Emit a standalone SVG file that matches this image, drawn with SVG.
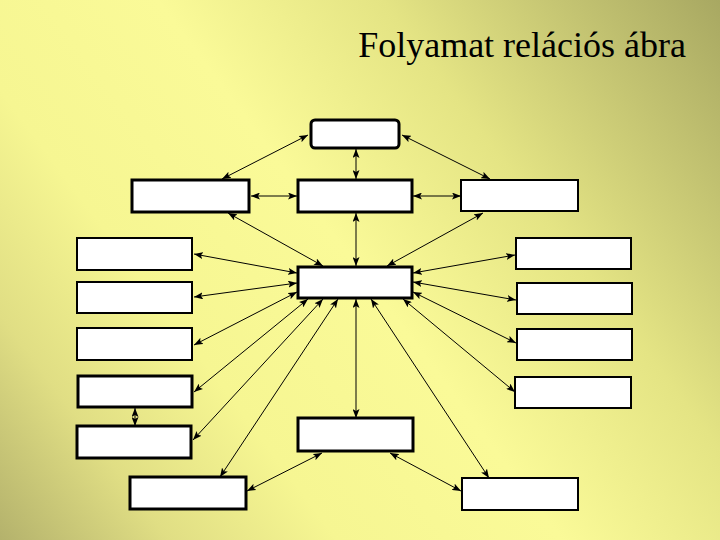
<svg xmlns="http://www.w3.org/2000/svg" width="720" height="540" viewBox="0 0 720 540">
<defs>
<linearGradient id="bg" gradientUnits="userSpaceOnUse" x1="720" y1="0" x2="0" y2="540">
<stop offset="0" stop-color="#a8a862"/>
<stop offset="0.3" stop-color="#e4e484"/>
<stop offset="0.5" stop-color="#fafa98"/>
<stop offset="0.7" stop-color="#f6f692"/>
<stop offset="0.85" stop-color="#e0de84"/>
<stop offset="1" stop-color="#b4b26c"/>
</linearGradient>
<marker id="ah" viewBox="0 0 9 7" refX="9" refY="3.5" markerWidth="9" markerHeight="7" markerUnits="userSpaceOnUse" orient="auto-start-reverse">
<path d="M0,0 L9,3.5 L0,7 L2,3.5 z" fill="#000"/>
</marker>
<style>
.box{fill:#fff;stroke:#000;stroke-width:3}
.thin{stroke-width:2}
.c line{stroke:#000;stroke-width:1;marker-start:url(#ah);marker-end:url(#ah)}
.title{font-family:"Liberation Serif","Times New Roman",serif;font-size:36px;fill:#000}
</style>
</defs>
<rect width="720" height="540" fill="url(#bg)"/>
<text class="title" x="686" y="57" text-anchor="end">Folyamat relációs ábra</text>

<g id="connectors" class="c">
<line x1="308" y1="135" x2="222" y2="179"/>
<line x1="402" y1="135" x2="490" y2="179"/>
<line x1="356" y1="149" x2="356" y2="179"/>
<line x1="251" y1="196" x2="297" y2="196"/>
<line x1="413" y1="196" x2="461" y2="196"/>
<line x1="356" y1="213" x2="356" y2="266"/>
<line x1="228" y1="213" x2="323" y2="266"/>
<line x1="483" y1="213" x2="387" y2="266"/>
<line x1="194" y1="254" x2="297" y2="273"/>
<line x1="194" y1="297" x2="297" y2="283"/>
<line x1="194" y1="345" x2="297" y2="292"/>
<line x1="194" y1="392" x2="308" y2="299"/>
<line x1="193" y1="440" x2="323" y2="299"/>
<line x1="220" y1="477" x2="338" y2="299"/>
<line x1="356" y1="299" x2="356" y2="418"/>
<line x1="371" y1="299" x2="489" y2="478"/>
<line x1="413" y1="273" x2="515" y2="255"/>
<line x1="413" y1="282" x2="516" y2="300"/>
<line x1="413" y1="292" x2="516" y2="343"/>
<line x1="403" y1="299" x2="515" y2="392"/>
<line x1="135" y1="408" x2="135" y2="426"/>
<line x1="322" y1="453" x2="247" y2="491"/>
<line x1="390" y1="453" x2="461" y2="491"/>
</g>

<g id="top"><rect class="box" x="311" y="120" width="88" height="28" rx="4"/></g>
<g id="row2-left"><rect class="box" x="132" y="180" width="117" height="32"/></g>
<g id="row2-mid"><rect class="box" x="298" y="180" width="114" height="32"/></g>
<g id="row2-right"><rect class="box thin" x="461" y="180" width="117" height="31"/></g>
<g id="center"><rect class="box" x="298" y="267" width="114" height="31"/></g>
<g id="left-1"><rect class="box thin" x="77" y="238" width="115" height="32"/></g>
<g id="left-2"><rect class="box thin" x="77" y="282" width="115" height="31"/></g>
<g id="left-3"><rect class="box thin" x="77" y="328" width="115" height="32"/></g>
<g id="left-4"><rect class="box" x="78" y="376" width="114" height="31"/></g>
<g id="left-5"><rect class="box" x="77" y="426" width="114" height="32"/></g>
<g id="right-1"><rect class="box thin" x="516" y="238" width="115" height="31"/></g>
<g id="right-2"><rect class="box thin" x="517" y="283" width="115" height="31"/></g>
<g id="right-3"><rect class="box thin" x="517" y="329" width="115" height="31"/></g>
<g id="right-4"><rect class="box thin" x="515" y="377" width="116" height="31"/></g>
<g id="bottom-mid"><rect class="box" x="298" y="418" width="115" height="33"/></g>
<g id="bottom-left"><rect class="box" x="130" y="477" width="116" height="32"/></g>
<g id="bottom-right"><rect class="box thin" x="462" y="478" width="116" height="32"/></g>
</svg>
